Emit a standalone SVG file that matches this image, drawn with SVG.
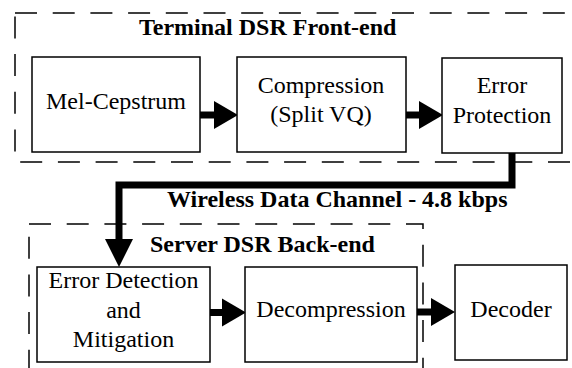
<svg xmlns="http://www.w3.org/2000/svg" width="572" height="368" viewBox="0 0 572 368">
  <style>
    .box { fill: #fff; stroke: #000; stroke-width: 1.5; }
    .group { fill: none; stroke: #000; stroke-width: 1.5; stroke-dasharray: 22 15.7; }
    .label { font-family: "Liberation Serif", "Times New Roman", serif; font-size: 24px; fill: #000; text-anchor: middle; }
    .title { font-family: "Liberation Serif", "Times New Roman", serif; font-size: 24px; font-weight: bold; fill: #000; }
    .link { fill: none; stroke: #000; stroke-width: 7; }
  </style>
  <defs>
    <marker id="head" markerUnits="userSpaceOnUse" markerWidth="24" markerHeight="28" refX="0" refY="14" orient="auto" overflow="visible">
      <path d="M0,0 L24,14 L0,28 Z" fill="#000"/>
    </marker>
    <marker id="headLong" markerUnits="userSpaceOnUse" markerWidth="28" markerHeight="28" refX="0" refY="14" orient="auto" overflow="visible">
      <path d="M0,0 L28,14 L0,28 Z" fill="#000"/>
    </marker>
  </defs>

  <rect width="572" height="368" fill="#fff"/>

  <!-- dashed sub-system outlines -->
  <g id="frontend-group">
    <rect class="group" x="15" y="13" width="580" height="149"/>
    <text class="title" x="139" y="35">Terminal DSR Front-end</text>
  </g>
  <g id="backend-group">
    <rect class="group" x="29" y="224" width="394" height="170"/>
    <text class="title" x="150" y="252">Server DSR Back-end</text>
  </g>

  <!-- connectors -->
  <g id="connectors">
    <line class="link" x1="200" y1="115" x2="214" y2="115" marker-end="url(#head)"/>
    <line class="link" x1="406" y1="115" x2="419" y2="115" marker-end="url(#head)"/>
    <path class="link" d="M512,153 V185 H119 V239" marker-end="url(#headLong)"/>
    <line class="link" x1="210" y1="312.5" x2="222" y2="312.5" marker-end="url(#head)"/>
    <line class="link" x1="417" y1="312" x2="431" y2="312" marker-end="url(#head)"/>
    <text class="title" x="167" y="207">Wireless Data Channel - 4.8 kbps</text>
  </g>

  <!-- front-end blocks -->
  <g id="mel-cepstrum">
    <rect class="box" x="32" y="57" width="168" height="95"/>
    <text class="label" x="116" y="109">Mel-Cepstrum</text>
  </g>
  <g id="compression">
    <rect class="box" x="237" y="57" width="169" height="95"/>
    <text class="label" x="321" y="93">Compression</text>
    <text class="label" x="321" y="122">(Split VQ)</text>
  </g>
  <g id="error-protection">
    <rect class="box" x="442" y="58" width="120" height="95"/>
    <text class="label" x="502" y="93">Error</text>
    <text class="label" x="502" y="123">Protection</text>
  </g>

  <!-- back-end blocks -->
  <g id="error-detection">
    <rect class="box" x="37" y="267" width="173" height="95"/>
    <text class="label" x="123.5" y="288">Error Detection</text>
    <text class="label" x="123.5" y="318">and</text>
    <text class="label" x="123.5" y="347">Mitigation</text>
  </g>
  <g id="decompression">
    <rect class="box" x="245" y="267" width="172" height="95"/>
    <text class="label" x="331" y="317">Decompression</text>
  </g>
  <g id="decoder">
    <rect class="box" x="455" y="265" width="112" height="95"/>
    <text class="label" x="511" y="317">Decoder</text>
  </g>
</svg>
